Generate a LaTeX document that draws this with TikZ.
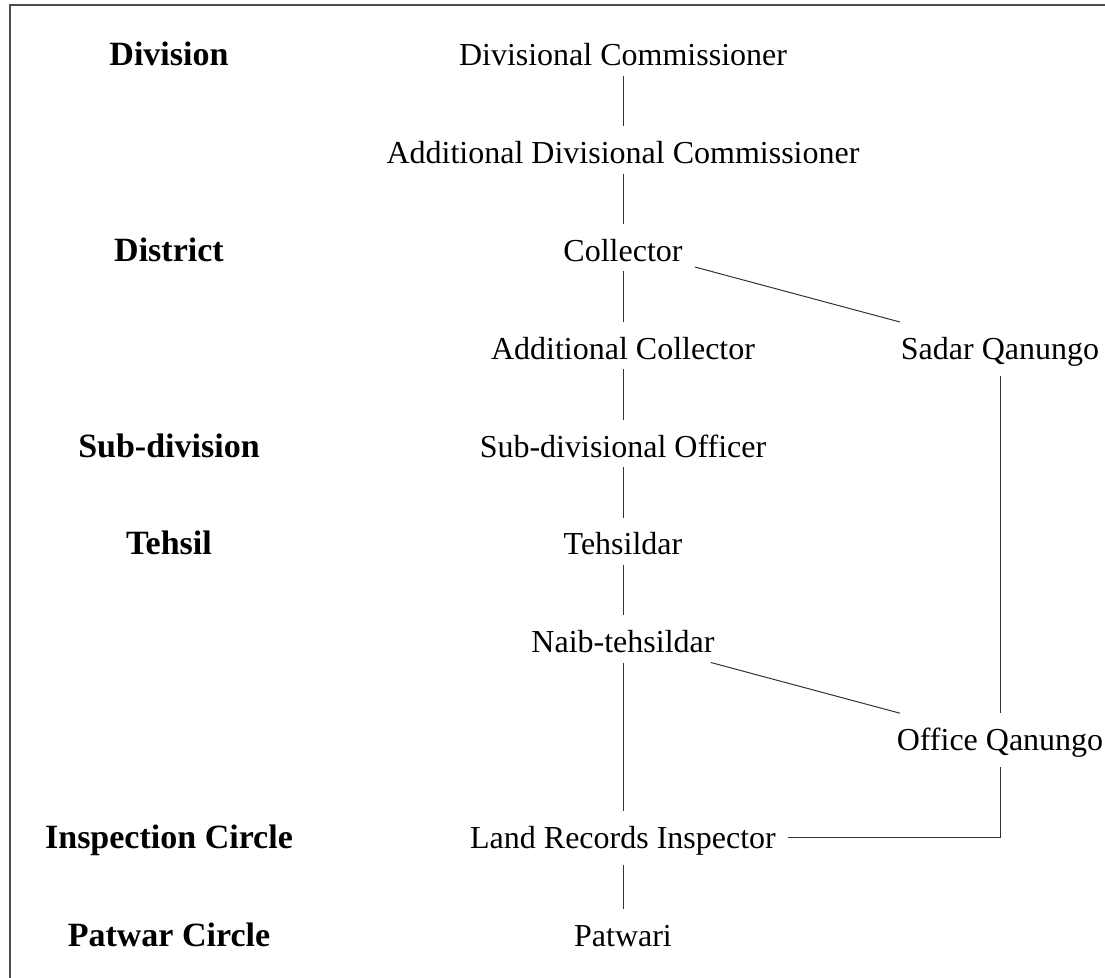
\documentclass[tikz,border=0pt]{standalone}
\usepackage{fontspec}
\setmainfont{Liberation Serif}
\usetikzlibrary{positioning}

\begin{document}
\begin{tikzpicture}[x=0.5pt,y=0.5pt,yscale=-1,
    post/.style={anchor=base,inner xsep=6pt,inner ysep=4.5pt,text height=14pt,font=\fontsize{16}{19}\selectfont},
    level/.style={anchor=base,font=\fontsize{17}{20}\selectfont\bfseries},
    link/.style={draw=black!80,line width=0.5pt}]
    \useasboundingbox (0,0) rectangle (1105,978);
    \draw [black!70,line width=0.6pt] (10,978) -- (10,5) -- (1105,5);

    \node [level] (division) at (169,66) {Division};
    \node [level] (district) at (169,261.6) {District};
    \node [level] (subdiv) at (169,457.2) {Sub-division};
    \node [level] (tehsil) at (169,555) {Tehsil};
    \node [level] (inspcircle) at (169,848.4) {Inspection Circle};
    \node [level] (patcircle) at (169,946.2) {Patwar Circle};

    \node [post] (divcom) at (623,66) {Divisional Commissioner};
    \node [post] (adddivcom) at (623,163.8) {Additional Divisional Commissioner};
    \node [post] (collector) at (623,261.6) {Collector};
    \node [post] (addcoll) at (623,359.4) {Additional Collector};
    \node [post] (sdo) at (623,457.2) {Sub-divisional Officer};
    \node [post] (tehsildar) at (623,555) {Tehsildar};
    \node [post] (naib) at (623,652.8) {Naib-tehsildar};
    \node [post] (lri) at (623,848.4) {Land Records Inspector};
    \node [post] (patwari) at (623,946.2) {Patwari};
    \node [post] (sadarq) at (1000,359.4) {Sadar Qanungo};
    \node [post] (officeq) at (1000,750.6) {Office Qanungo};

    \draw [link] (divcom) -- (adddivcom);
    \draw [link] (adddivcom) -- (collector);
    \draw [link] (collector) -- (addcoll);
    \draw [link] (addcoll) -- (sdo);
    \draw [link] (sdo) -- (tehsildar);
    \draw [link] (tehsildar) -- (naib);
    \draw [link] (naib) -- (lri);
    \draw [link] (lri) -- (patwari);
    \draw [link] (collector) -- (sadarq);
    \draw [link] (naib) -- (officeq);
    \draw [link] (sadarq) -- (officeq);
    \draw [link] (lri) -| (officeq);
\end{tikzpicture}
\end{document}
